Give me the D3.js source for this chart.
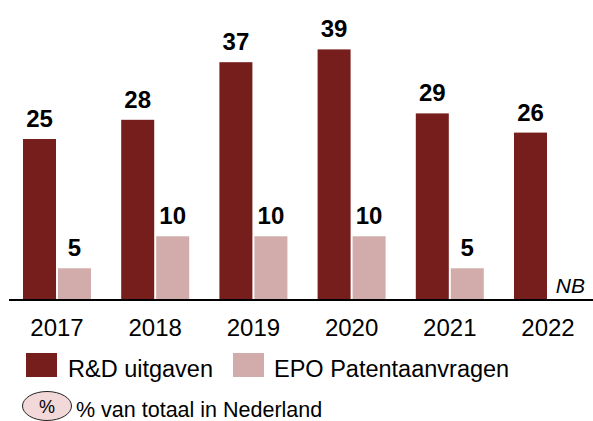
<!DOCTYPE html>
<html>
<head>
<meta charset="utf-8">
<script src="https://cdn.jsdelivr.net/npm/d3@7"></script>
<style>
  html, body { margin: 0; padding: 0; background: #fff; }
  svg { display: block; font-family: "Liberation Sans", Arial, sans-serif; }
</style>
</head>
<body>
<svg id="chart" width="593" height="421"></svg>
<script>
const years = ["2017", "2018", "2019", "2020", "2021", "2022"];
const rdValues = [25, 28, 37, 39, 29, 26];
const epoValues = [4.8, 9.8, 9.8, 9.8, 4.8, null];
const seriesNames = ["R&D uitgaven", "EPO Patentaanvragen"];
const seriesColors = ["#761e1c", "#d1acaa"];
const noteLabel = "NB";
const bubbleLabel = "% van totaal in Nederland";

const svg = d3.select("#chart");
const baseY = 299;

const x = d3.scaleBand().domain(years).range([23, 582]).paddingInner(0.3075).paddingOuter(0);
const xs = d3.scaleBand().domain([0, 1]).range([0, x.bandwidth()]).paddingInner(0.057);
const y = d3.scaleLinear().domain([0, 40]).range([baseY, baseY - 256]);

const series = [rdValues, epoValues];
const fmt = d3.format(".0f");

series.forEach((vals, si) => {
  const data = years.map((yr, i) => ({ yr, v: vals[i] })).filter(d => d.v != null);
  svg.append("g").selectAll("rect").data(data).join("rect")
    .attr("x", d => x(d.yr) + xs(si))
    .attr("width", xs.bandwidth())
    .attr("y", d => y(d.v))
    .attr("height", d => y(0) - y(d.v))
    .attr("fill", seriesColors[si]);
  svg.append("g").selectAll("text").data(data).join("text")
    .attr("x", d => x(d.yr) + xs(si) + xs.bandwidth() / 2)
    .attr("y", d => y(d.v) - 12)
    .attr("text-anchor", "middle")
    .attr("font-weight", "bold")
    .attr("font-size", 24)
    .attr("fill", "#000")
    .text(d => fmt(d.v));
});

// axis
const axis = svg.append("g").attr("transform", `translate(0,${baseY + 1})`)
  .call(d3.axisBottom(x).tickSize(0).tickPadding(0));
axis.select(".domain").remove();
axis.selectAll("text")
  .attr("font-size", 24)
  .attr("font-family", "Liberation Sans, Arial, sans-serif")
  .attr("fill", "#000")
  .attr("dy", null)
  .attr("y", 36);
svg.append("line").attr("x1", 9).attr("x2", 593).attr("y1", baseY + 1).attr("y2", baseY + 1)
  .attr("stroke", "#000").attr("stroke-width", 2);

svg.append("text").attr("x", 585).attr("y", 293).attr("text-anchor", "end")
  .attr("font-style", "italic").attr("font-size", 21).text(noteLabel);

// legend
const legendItems = [
  { name: seriesNames[0], color: seriesColors[0], rx: 26, tx: 68 },
  { name: seriesNames[1], color: seriesColors[1], rx: 233, tx: 274 }
];
const lg = svg.append("g");
legendItems.forEach(it => {
  lg.append("rect").attr("x", it.rx).attr("y", 353).attr("width", 31).attr("height", 24).attr("fill", it.color);
  lg.append("text").attr("x", it.tx).attr("y", 377).attr("font-size", 23.5).attr("fill", "#000").text(it.name);
});
lg.append("ellipse").attr("cx", 47).attr("cy", 406).attr("rx", 24.5).attr("ry", 14.5)
  .attr("fill", "#f2d8d9").attr("stroke", "#222").attr("stroke-width", 1);
lg.append("text").attr("x", 47).attr("y", 413).attr("text-anchor", "middle").attr("font-size", 18).text("%");
lg.append("text").attr("x", 76).attr("y", 417).attr("font-size", 21.5).attr("fill", "#000").text(bubbleLabel);
</script>
</body>
</html>
